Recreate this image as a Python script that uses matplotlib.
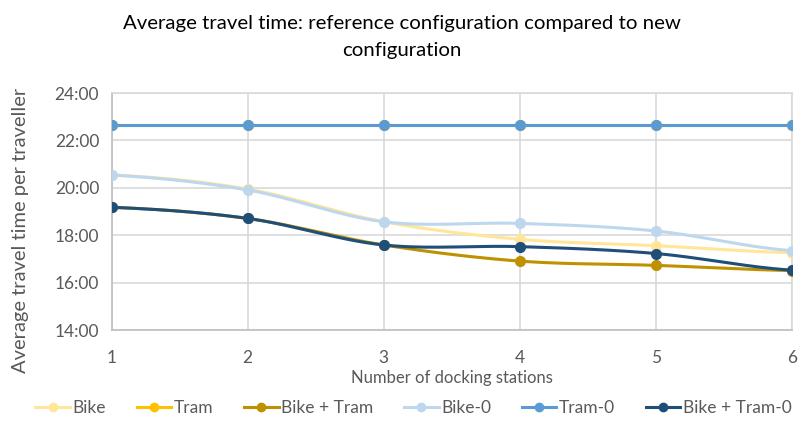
import matplotlib
matplotlib.use("Agg")
import matplotlib.pyplot as plt
from matplotlib.ticker import FuncFormatter
import numpy as np

# docking stations on the x axis, travel times in minutes
stations = [1, 2, 3, 4, 5, 6]
bike = [20.55, 19.95, 18.57, 17.83, 17.56, 17.26]
tram = [22.65, 22.65, 22.65, 22.65, 22.65, 22.65]
bike_tram = [19.18, 18.71, 17.59, 16.91, 16.73, 16.51]
bike_0 = [20.54, 19.91, 18.57, 18.50, 18.18, 17.35]
tram_0 = [22.65, 22.65, 22.65, 22.65, 22.65, 22.65]
bike_tram_0 = [19.18, 18.71, 17.59, 17.52, 17.23, 16.53]

names = ["Bike", "Tram", "Bike + Tram", "Bike-0", "Tram-0", "Bike + Tram-0"]
colors = ["#FFE699", "#FFC000", "#BF9000", "#BDD7EE", "#5B9BD5", "#1F4E79"]

plt.rcParams['font.family'] = ['Lato', 'DejaVu Sans']


def smooth(x, y, n=30):
    # catmull-rom style curve through the points, like excel smoothed lines
    x = np.asarray(x, float)
    y = np.asarray(y, float)
    px = np.concatenate([[2 * x[0] - x[1]], x, [2 * x[-1] - x[-2]]])
    py = np.concatenate([[y[0]], y, [y[-1]]])
    xs, ys = [], []
    for i in range(1, len(px) - 2):
        t = np.linspace(0, 1, n, endpoint=False)
        for p, out in ((px, xs), (py, ys)):
            p0, p1, p2, p3 = p[i - 1], p[i], p[i + 1], p[i + 2]
            c1 = p1 + (p2 - p0) / 6
            c2 = p2 - (p3 - p1) / 6
            out.extend((1 - t) ** 3 * p1 + 3 * (1 - t) ** 2 * t * c1
                       + 3 * (1 - t) * t ** 2 * c2 + t ** 3 * p2)
    xs.append(x[-1])
    ys.append(y[-1])
    return np.array(xs), np.array(ys)


fig = plt.figure(figsize=(8.03, 4.21), dpi=100)
ax = fig.add_axes([0.139, 0.216, 0.847, 0.563])

for vals, name, c in zip([bike, tram, bike_tram, bike_0, tram_0, bike_tram_0], names, colors):
    sx, sy = smooth(stations, vals)
    ax.plot(sx, sy, color=c, lw=2.2, zorder=3)
    ax.plot(stations, vals, 'o', color=c, ms=7, zorder=4)
    ax.plot([], [], '-o', color=c, lw=2.2, ms=6, label=name)

ax.set_xlim(1, 6)
ax.set_ylim(14, 24)
ax.set_xticks(stations)
ax.set_yticks(np.arange(14, 25, 2))
ax.yaxis.set_major_formatter(FuncFormatter(lambda v, p: f"{int(v)}:00"))
ax.grid(True, color="#d9d9d9", lw=1.2)
ax.set_axisbelow(True)
for s in ax.spines.values():
    s.set_color("#d9d9d9")
    s.set_linewidth(1.2)
ax.spines['left'].set_color("#bfbfbf")
ax.spines['bottom'].set_color("#bfbfbf")
ax.tick_params(axis='x', length=0, labelsize=12.5, labelcolor="#595959", pad=14)
ax.tick_params(axis='y', length=0, labelsize=12.5, labelcolor="#595959", pad=9)

ax.set_xlabel("Number of docking stations", fontsize=12, color="#595959", labelpad=3)
ax.set_ylabel("Average travel time per traveller", fontsize=14.5, color="#595959")
ax.yaxis.set_label_coords(-0.122, 0.42)
fig.text(0.5, 0.945, "Average travel time: reference configuration compared to new",
         ha="center", va="center", fontsize=14.7)
fig.text(0.5, 0.88, "configuration", ha="center", va="center", fontsize=14.7)

fig.legend(loc="lower center", ncol=6, bbox_to_anchor=(0.515, -0.025), frameon=False,
           fontsize=12.5, labelcolor="#595959", handlelength=2.0, handletextpad=0.15,
           columnspacing=1.75)

fig.savefig("out.png", dpi=100)
